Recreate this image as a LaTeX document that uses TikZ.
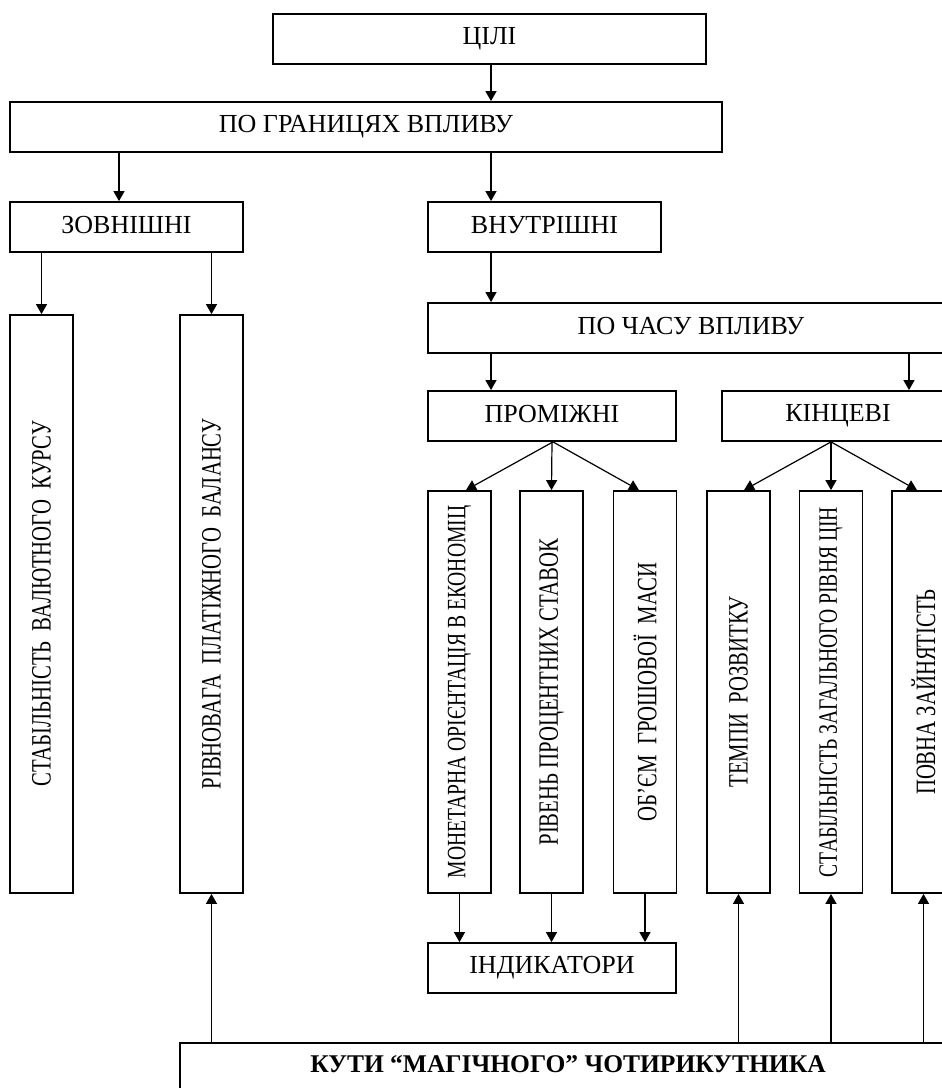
\documentclass[tikz,border=0pt]{standalone}
\usepackage{fontspec}
\setmainfont{Liberation Serif}
\newfontfamily\narrowfont[FakeStretch=0.74]{Liberation Serif}
\usetikzlibrary{arrows.meta}

\tikzset{
  box/.style={draw, line width=1.8pt, rectangle, inner sep=0pt, anchor=center,
    font=\fontsize{26}{30}\selectfont},
  hbox/.style={box, minimum height=50pt},
  tallbox/.style={box, minimum width=63pt, minimum height=402pt,
    font=\narrowfont\fontsize{28}{30}\selectfont},
  smalltall/.style={tallbox, font=\narrowfont\fontsize{26.5}{30}\selectfont},
  sidebox/.style={tallbox, minimum height=578pt},
  link/.style={line width=1.2pt, -{Triangle[length=10pt,width=11pt]}},
}
% vertical caption, read from bottom to top
\newcommand{\vtext}[1]{\rotatebox{90}{#1}}
% caption placed a little above the middle of its box
\newcommand{\raisedtext}[1]{\raisebox{5pt}{#1}}

\begin{document}
\begin{tikzpicture}[x=1pt, y=-1pt]
\useasboundingbox (0,0) rectangle (942,1088);
\clip (0,0) rectangle (942,1088);

% top levels
\node[hbox, minimum width=433pt] (cili) at (489.5,39) {\raisedtext{ЦІЛІ}};
\node[hbox, minimum width=712pt] (pogr) at (366,127) {\raisedtext{ПО ГРАНИЦЯХ ВПЛИВУ}};
\node[hbox, minimum width=233pt] (zovn) at (126.5,227) {\raisedtext{ЗОВНІШНІ}};
\node[hbox, minimum width=233pt] (vnut) at (544.5,227) {\raisedtext{ВНУТРІШНІ}};
\node[hbox, minimum width=526pt] (chas) at (691,328) {\raisedtext{ПО ЧАСУ ВПЛИВУ}};
\node[hbox, minimum width=248pt] (prom) at (552,416) {\raisedtext{ПРОМІЖНІ}};
\node[hbox, minimum width=232pt] (kinc) at (838,416) {\raisedtext{КІНЦЕВІ}};

% external goals
\node[sidebox] (kurs) at (41.5,604) {\vtext{СТАБІЛЬНІСТЬ\ \ ВАЛЮТНОГО\ \ КУРСУ}};
\node[sidebox] (bal) at (211.5,604) {\vtext{РІВНОВАГА\ \ ПЛАТІЖНОГО\ \ БАЛАНСУ}};

% intermediate goals
\node[smalltall] (mon) at (459.5,692) {\vtext{МОНЕТАРНА ОРІЄНТАЦІЯ В ЕКОНОМІЦ}};
\node[tallbox] (stav) at (551.5,692) {\vtext{РІВЕНЬ ПРОЦЕНТНИХ СТАВОК}};
\node[tallbox] (masa) at (645,692) {\vtext{ОБ’ЄМ\ \ ГРОШОВОЇ\ \ МАСИ}};

% final goals
\node[tallbox] (temp) at (738.5,692) {\vtext{ТЕМПИ\ \ РОЗВИТКУ}};
\node[smalltall] (cin) at (831,692) {\vtext{СТАБІЛЬНІСТЬ ЗАГАЛЬНОГО РІВНЯ ЦІН}};
\node[tallbox] (zain) at (923.5,692) {\vtext{ПОВНА ЗАЙНЯТІСТЬ}};

% bottom boxes
\node[hbox, minimum width=248pt] (ind) at (552,968) {\raisedtext{ІНДИКАТОРИ}};
\node[hbox, minimum width=776pt, font=\bfseries\fontsize{25.5}{30}\selectfont] (kuty) at (568,1068)
  {\raisebox{8pt}{КУТИ “МАГІЧНОГО” ЧОТИРИКУТНИКА}};

% hierarchy arrows
\draw[link] ([xshift=1.5pt]cili.south) -- ([xshift=1.5pt]cili.south |- pogr.north);
\draw[link] (pogr.south -| 119,0) -- (zovn.north -| 119,0);
\draw[link] (pogr.south -| 491,0) -- (vnut.north -| 491,0);
\draw[link] (zovn.south -| kurs.north) -- (kurs.north);
\draw[link] (zovn.south -| bal.north) -- (bal.north);
\draw[link] (vnut.south -| 491,0) -- (chas.north -| 491,0);
\draw[link] (chas.south -| 491,0) -- (prom.north -| 491,0);
\draw[link] (chas.south -| 909,0) -- (kinc.north -| 909,0);

% fans to the goal columns
\draw[link] ([xshift=1pt]prom.south) -- ([xshift=6.5pt]mon.north);
\draw[link] (prom.south) -- (stav.north);
\draw[link] ([xshift=1pt]prom.south) -- ([xshift=-6pt]masa.north);
\draw[link] ([xshift=-7pt]kinc.south) -- ([xshift=5.5pt]temp.north);
\draw[link] ([xshift=-7pt]kinc.south) -- (cin.north);
\draw[link] ([xshift=-7pt]kinc.south) -- ([xshift=-6.5pt]zain.north);

% intermediate goals feed the indicators
\draw[link] (mon.south) -- (mon.south |- ind.north);
\draw[link] (stav.south) -- (stav.south |- ind.north);
\draw[link] (masa.south) -- (masa.south |- ind.north);

% corners of the magic square
\draw[link] (kuty.north -| bal.south) -- (bal.south);
\draw[link] (kuty.north -| temp.south) -- (temp.south);
\draw[link] (kuty.north -| cin.south) -- (cin.south);
\draw[link] (kuty.north -| zain.south) -- (zain.south);
\end{tikzpicture}
\end{document}
